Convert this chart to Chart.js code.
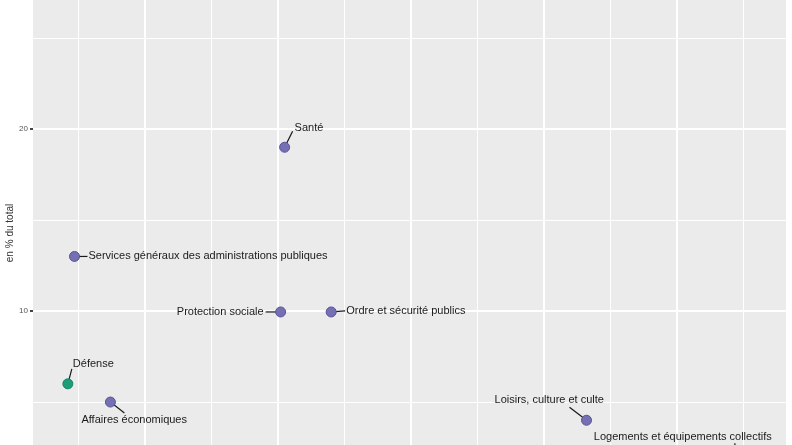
<!DOCTYPE html>
<html>
<head>
<meta charset="utf-8">
<script src="https://cdn.jsdelivr.net/npm/chart.js@4/dist/chart.umd.min.js"></script>
<style>
  html, body { margin: 0; padding: 0; background: #fff; }
  #wrap { width: 792px; height: 445px; position: relative; }
</style>
</head>
<body>
<div id="wrap"><canvas id="scatter"></canvas></div>
<script>
// data (x axis is cut off in the reference, units arbitrary)
const categories = [
  "Défense",
  "Affaires économiques",
  "Services généraux des administrations publiques",
  "Santé",
  "Protection sociale",
  "Ordre et sécurité publics",
  "Loisirs, culture et culte",
  "Logements et équipements collectifs"
];
const xValues = [0.42, 0.74, 0.47, 2.05, 2.02, 2.40, 4.32, 5.45];
const yValues = [6.0, 5.0, 13.0, 19.0, 9.95, 9.95, 4.0, 1.8];
const groups = ["b", "a", "a", "a", "a", "a", "a", "a"];
const yTickLabels = [10, 20];
const yTitle = "en % du total";

// label placement (pixel offsets from the point) : text anchor, align, segment end
const labelPlacement = [
  { dx: 5, dy: -20, align: "left", sx: 4, sy: -15 },
  { dx: -29, dy: 18, align: "left", sx: 14, sy: 11 },
  { dx: 14, dy: 0, align: "left", sx: 13, sy: 0 },
  { dx: 10, dy: -19, align: "left", sx: 8, sy: -16 },
  { dx: -17, dy: 0, align: "right", sx: -15, sy: 0 },
  { dx: 15, dy: -1, align: "left", sx: 14, sy: -1 },
  { dx: -92, dy: -20, align: "left", sx: -17, sy: -13 },
  { dx: -143, dy: -23, align: "left", sx: -2, sy: -17 }
];

const groupColors = { a: "#7570B3", b: "#1B9E77" };
const groupBorders = { a: "#58539a", b: "#168563" };

const points = xValues.map((x, i) => ({ x: x, y: yValues[i] }));

const panelBg = {
  id: "panelBg",
  beforeDraw(chart) {
    const a = chart.chartArea;
    const ctx = chart.ctx;
    ctx.save();
    ctx.fillStyle = "#EBEBEB";
    ctx.fillRect(a.left, a.top, a.right - a.left, a.bottom - a.top);
    ctx.restore();
  }
};

// y title sits a bit lower than the visible panel centre (full plot is taller than the crop)
const axisTitle = {
  id: "axisTitle",
  afterDraw(chart) {
    const ctx = chart.ctx;
    ctx.save();
    ctx.translate(10, 233);
    ctx.rotate(-Math.PI / 2);
    ctx.font = "10px 'Liberation Sans', Arial, sans-serif";
    ctx.fillStyle = "#333";
    ctx.textAlign = "center";
    ctx.textBaseline = "middle";
    ctx.fillText(yTitle, 0, 0);
    ctx.restore();
  }
};

const repelLabels = {
  id: "repelLabels",
  beforeDatasetsDraw(chart) {
    const ctx = chart.ctx;
    const meta = chart.getDatasetMeta(0);
    ctx.save();
    ctx.strokeStyle = "#1a1a1a";
    ctx.lineWidth = 1.2;
    meta.data.forEach((el, i) => {
      const p = labelPlacement[i];
      ctx.beginPath();
      ctx.moveTo(el.x, el.y);
      ctx.lineTo(el.x + p.sx, el.y + p.sy);
      ctx.stroke();
    });
    ctx.restore();
  },
  afterDatasetsDraw(chart) {
    const ctx = chart.ctx;
    const meta = chart.getDatasetMeta(0);
    ctx.save();
    ctx.font = "11px 'Liberation Sans', Arial, sans-serif";
    ctx.fillStyle = "#1a1a1a";
    ctx.textBaseline = "middle";
    meta.data.forEach((el, i) => {
      const p = labelPlacement[i];
      ctx.textAlign = p.align;
      ctx.fillText(categories[i], el.x + p.dx, el.y + p.dy);
    });
    ctx.restore();
  }
};

function noPad(s) {
  s.paddingTop = 0;
  s.paddingBottom = 0;
  s.paddingLeft = 0;
  s.paddingRight = 0;
}

var ctx = document.getElementById("scatter").getContext("2d");
var chart = new Chart(ctx, {
  type: "scatter",
  data: {
    datasets: [
      {
        label: "dépenses",
        data: points,
        pointRadius: 5,
        pointHoverRadius: 5,
        pointBackgroundColor: groups.map((g) => groupColors[g]),
        pointBorderColor: groups.map((g) => groupBorders[g]),
        pointBorderWidth: 1,
      },
    ],
  },
  options: {
    responsive: true,
    maintainAspectRatio: false,
    animation: false,
    layout: { padding: { left: 0, top: 0, bottom: 0, right: 6 }, autoPadding: false },
    plugins: {
      legend: { display: false },
      tooltip: { enabled: false },
    },
    scales: {
      x: {
        type: "linear",
        min: 0.158,
        max: 5.82,
        border: { display: false },
        ticks: { display: false, stepSize: 0.5, includeBounds: false },
        grid: {
          color: "#ffffff",
          drawTicks: false,
          lineWidth: (c) => (Math.abs(c.tick.value - Math.round(c.tick.value)) < 1e-6 ? 2 : 1),
        },
        afterFit: (s) => { s.height = 0; noPad(s); },
      },
      y: {
        type: "linear",
        min: 2.64,
        max: 27.09,
        border: { display: false },
        title: { display: false },
        ticks: {
          stepSize: 5,
          includeBounds: false,
          padding: 2,
          color: "#555",
          font: { family: "'Liberation Sans', Arial, sans-serif", size: 8 },
          callback: (v) => (yTickLabels.includes(v) ? String(v) : ""),
        },
        grid: {
          color: "#ffffff",
          tickLength: 3,
          tickColor: (c) => (yTickLabels.includes(c.tick.value) ? "#444" : "rgba(0,0,0,0)"),
          lineWidth: (c) => (yTickLabels.includes(c.tick.value) ? 2 : 1),
        },
        afterFit: (s) => { s.width = 33; noPad(s); },
      },
    },
  },
  plugins: [panelBg, repelLabels, axisTitle],
});
</script>
</body>
</html>
